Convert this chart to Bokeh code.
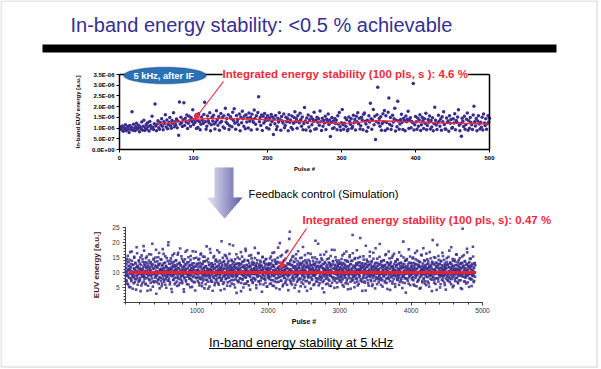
import math
from bokeh.plotting import figure
from bokeh.models import (Range1d, FixedTicker, CustomJSTickFormatter, Label, Arrow,
                          NormalHead, PolyAnnotation, BoxAnnotation, LinearAxis)
from bokeh.embed import file_html
from bokeh.resources import INLINE

FONT = "Liberation Sans"

title_text = "In-band energy stability: <0.5 % achievable"
top_badge_text = "5 kHz,  after IF"
top_note_text = "Integrated energy stability (100 pls, s ): 4.6 %"
bottom_note_text = "Integrated energy stability (100 pls, s): 0.47 %"
feedback_text = "Feedback control (Simulation)"
caption_text = "In-band energy stability at 5 kHz"

# ---------------- top chart: in-band EUV energy per pulse (unit 1e-6 a.u.) ----------------
top_energy_1_100 = [
    0.98, 1.05, 0.92, 1.10, 0.85, 1.02, 0.96, 1.15, 0.88, 1.01, 0.93, 1.08, 0.79, 1.12, 0.95, 1.04, 1.76, 0.90, 1.18, 0.99, 0.87, 1.06, 1.22, 0.94, 1.00,
    1.13, 0.83, 1.05, 0.97, 1.28, 0.91, 1.09, 1.36, 0.89, 1.02, 1.17, 0.95, 1.25, 1.07, 0.86, 1.31, 1.12, 0.98, 1.55, 1.04, 0.93, 1.20, 2.12, 1.10, 0.88,
    1.19, 1.34, 1.01, 0.95, 1.26, 1.14, 1.43, 1.08, 0.92, 1.30, 1.21, 1.62, 1.05, 1.38, 0.97, 1.16, 1.27, 1.49, 1.11, 0.99, 1.35, 1.23, 1.71, 1.06, 1.29,
    1.15, 1.42, 1.02, 1.33, 0.66, 2.22, 1.19, 1.51, 1.25, 1.07, 1.39, 2.18, 1.12, 1.46, 1.28, 1.61, 0.98, 1.22, 1.55, 1.36, 1.09, 1.48, 1.31, 1.85, 1.17]
top_energy_101_200 = [
    1.40, 1.26, 1.58, 0.98, 1.35, 1.03, 1.67, 1.29, 0.92, 1.18, 1.52, 1.37, 1.21, 1.63, 2.21, 1.30, 0.95, 1.08, 1.56, 1.34, 1.24, 1.72, 0.88, 1.15, 1.50,
    1.33, 1.60, 1.19, 0.96, 1.27, 1.81, 1.38, 1.13, 1.54, 0.90, 1.25, 1.68, 1.31, 1.49, 1.05, 1.57, 0.99, 1.92, 1.28, 1.45, 1.20, 1.62, 0.93, 1.11, 1.53,
    1.44, 1.06, 1.74, 1.35, 1.90, 1.22, 0.94, 1.59, 1.30, 1.41, 1.16, 1.66, 0.87, 1.52, 1.25, 1.78, 1.43, 1.09, 1.56, 0.97, 1.62, 1.28, 1.47, 1.00, 1.70,
    1.32, 1.51, 0.91, 1.64, 1.40, 1.27, 1.84, 1.45, 1.18, 1.58, 0.95, 1.73, 2.46, 1.29, 1.49, 1.12, 1.61, 0.89, 1.55, 1.24, 1.68, 1.33, 1.46, 1.02, 1.57]
top_energy_201_300 = [
    1.37, 0.96, 1.48, 1.15, 1.63, 1.31, 1.52, 0.70, 1.42, 1.20, 1.59, 0.93, 1.07, 1.46, 1.28, 1.71, 1.39, 0.90, 1.54, 1.33, 1.24, 1.66, 1.01, 1.12, 1.50,
    1.30, 1.45, 0.88, 1.62, 1.27, 1.38, 1.03, 1.56, 0.94, 1.22, 1.49, 1.76, 1.29, 1.43, 0.99, 1.58, 1.31, 1.25, 1.69, 1.40, 1.09, 1.52, 0.92, 1.21, 1.96,
    1.33, 0.91, 1.47, 1.26, 1.61, 1.05, 1.39, 0.86, 1.53, 1.16, 1.42, 1.31, 1.74, 0.95, 1.36, 0.97, 1.50, 1.27, 1.44, 1.13, 1.80, 1.30, 0.89, 1.46, 1.08,
    1.35, 1.24, 1.55, 0.93, 1.41, 1.29, 1.66, 1.17, 1.38, 0.61, 1.26, 1.49, 0.98, 1.33, 1.02, 1.45, 1.21, 1.37, 0.92, 1.57, 1.19, 1.73, 1.06, 0.90, 1.25]
top_energy_301_400 = [
    1.87, 1.16, 0.94, 1.23, 1.48, 1.09, 1.39, 0.87, 0.95, 1.52, 1.31, 1.18, 1.44, 0.99, 1.07, 1.60, 1.25, 1.40, 0.91, 1.55, 1.29, 1.72, 1.20, 1.46, 0.96,
    1.11, 1.51, 1.38, 0.92, 1.64, 1.70, 1.32, 1.19, 0.85, 1.36, 1.04, 1.58, 1.28, 2.16, 1.43, 0.94, 1.39, 1.87, 1.15, 1.55, 0.47, 1.31, 1.62, 2.90, 1.24,
    1.45, 1.08, 1.53, 0.90, 1.21, 1.67, 1.30, 1.82, 0.89, 1.57, 1.26, 0.97, 1.74, 2.40, 1.18, 1.49, 0.93, 1.11, 1.60, 1.28, 1.44, 1.92, 0.86, 1.37, 1.06,
    2.25, 1.33, 0.95, 1.19, 1.40, 1.65, 1.27, 0.93, 1.46, 1.35, 0.88, 1.56, 1.29, 1.41, 1.78, 0.98, 1.36, 1.48, 1.02, 1.31, 1.25, 3.08, 0.91, 1.16, 1.54]
top_energy_401_500 = [
    1.30, 0.94, 1.47, 1.09, 1.38, 1.62, 0.89, 1.15, 1.51, 1.34, 0.98, 1.44, 1.23, 1.69, 0.92, 1.12, 1.40, 1.27, 1.56, 0.96, 1.35, 1.05, 1.48, 0.87, 1.21,
    1.97, 1.36, 1.14, 0.93, 1.25, 1.60, 1.32, 1.08, 1.42, 0.90, 1.53, 1.29, 1.76, 1.17, 0.96, 0.94, 1.47, 1.26, 1.33, 0.85, 1.58, 1.22, 1.40, 0.99, 1.03,
    1.44, 1.24, 1.67, 0.92, 1.35, 1.27, 1.52, 1.85, 1.13, 0.88, 1.21, 0.62, 1.46, 1.32, 1.07, 1.55, 0.95, 1.16, 1.41, 1.70, 0.90, 1.34, 0.99, 1.49, 1.26,
    1.15, 0.93, 1.61, 2.02, 1.29, 1.10, 1.45, 0.87, 1.33, 1.57, 1.19, 0.96, 1.27, 1.04, 1.50, 0.91, 1.66, 1.24, 1.12, 1.43, 0.94, 1.20, 1.58, 1.28, 1.46]

# 100-pulse integrated (moving average) curve, read every 10 pulses (unit 1e-6 a.u.)
top_avg_pulse = [50, 60, 70, 80, 90, 100, 110, 120, 130, 140, 150, 160, 170, 180, 190, 200, 210, 220, 230, 240,
                 250, 260, 270, 280, 290, 300, 310, 320, 330, 340, 350, 360, 370, 380, 390, 400, 410, 420, 430, 440,
                 450, 460, 470, 480, 490, 500]
top_avg_energy = [1.20, 1.22, 1.25, 1.30, 1.35, 1.40, 1.42, 1.44, 1.45, 1.45, 1.44, 1.43, 1.42, 1.41, 1.40, 1.39, 1.37, 1.35, 1.33, 1.32,
                  1.31, 1.30, 1.28, 1.25, 1.22, 1.21, 1.23, 1.26, 1.29, 1.32, 1.34, 1.33, 1.32, 1.30, 1.29, 1.28, 1.27, 1.26, 1.24, 1.23,
                  1.22, 1.22, 1.21, 1.21, 1.20, 1.20]

top_x_ticks = [0, 100, 200, 300, 400, 500]
top_y_ticks = [0.0, 5e-7, 1e-6, 1.5e-6, 2e-6, 2.5e-6, 3e-6, 3.5e-6]

# ---------------- bottom chart: EUV energy with feedback ----------------
# set A: pulses 1, 6, 11, ...
bottom_energy_a_1_1000 = [
    10.2, 7.5, 12.8, 9.1, 14.6, 6.3, 11.0, 8.7, 13.4, 10.9, 5.2, 12.1, 9.6, 16.8, 8.0, 11.7, 7.1, 10.4, 13.9, 9.3,
    4.6, 12.5, 10.0, 8.4, 15.2, 11.3, 6.8, 9.9, 13.0, 7.7, 10.6, 18.4, 8.9, 12.2, 5.9, 11.5, 9.4, 14.1, 7.3, 10.8,
    12.9, 8.2, 3.8, 11.1, 9.7, 15.7, 10.3, 6.5, 13.6, 8.6, 11.9, 9.0, 17.3, 7.9, 10.5, 12.4, 6.1, 14.8, 9.5, 11.4,
    8.1, 13.2, 10.1, 5.6, 12.0, 9.2, 16.1, 7.4, 11.6, 10.7, 4.2, 13.5, 8.8, 12.6, 9.8, 19.6, 7.0, 11.2, 10.0, 14.3,
    6.7, 9.4, 12.3, 8.3, 15.0, 10.6, 2.9, 11.8, 9.1, 13.7, 7.6, 10.2, 12.7, 6.2, 16.5, 8.5, 11.0, 9.9, 14.4, 7.2,
    10.9, 5.4, 12.2, 9.6, 17.8, 8.0, 11.3, 13.1, 6.9, 10.4, 9.0, 15.4, 7.8, 12.0, 4.9, 11.7, 10.1, 8.6, 13.8, 9.3,
    20.1, 7.3, 11.5, 10.8, 6.0, 12.9, 8.9, 14.7, 9.7, 11.1, 3.5, 13.3, 10.3, 7.5, 12.5, 9.2, 16.3, 8.2, 10.7, 11.9,
    6.6, 14.0, 9.5, 12.1, 7.0, 10.0, 15.9, 8.4, 11.4, 5.8, 13.0, 9.8, 10.6, 18.0, 7.7, 12.4, 8.8, 11.0, 14.5, 6.4,
    10.2, 9.1, 13.6, 4.4, 11.8, 8.1, 12.8, 10.5, 16.9, 7.4, 9.6, 11.2, 6.1, 13.4, 10.0, 8.7, 15.1, 9.3, 12.2, 7.9,
    10.8, 5.1, 14.2, 9.0, 11.6, 12.6, 7.2, 10.4, 17.1, 8.5, 11.3, 6.8, 13.1, 9.9, 10.1, 4.0, 12.0, 8.3, 14.9, 10.7]
bottom_energy_a_1001_2000 = [
    9.4, 12.7, 7.1, 11.0, 14.3, 8.6, 10.5, 5.7, 13.2, 9.9, 16.0, 7.8, 11.8, 10.2, 6.4, 12.9, 9.1, 15.3, 8.0, 10.8,
    11.6, 4.7, 13.7, 9.5, 12.1, 7.6, 10.0, 18.7, 8.8, 11.4, 6.9, 14.6, 10.3, 9.2, 12.5, 5.3, 11.1, 8.4, 16.6, 10.7,
    7.4, 13.0, 9.7, 11.9, 3.9, 12.3, 10.1, 8.2, 15.5, 9.0, 11.5, 6.6, 13.9, 10.6, 8.9, 12.0, 7.0, 17.4, 9.6, 11.2,
    10.4, 5.9, 12.8, 8.5, 14.0, 9.3, 11.7, 7.3, 10.9, 20.4, 8.1, 12.6, 9.8, 6.2, 13.5, 10.0, 11.3, 4.5, 15.8, 8.7,
    12.2, 9.4, 7.9, 11.0, 14.8, 10.5, 6.7, 13.3, 9.1, 11.8, 8.3, 16.2, 10.2, 5.5, 12.4, 9.6, 11.5, 7.5, 13.8, 10.8,
    8.6, 19.0, 9.9, 12.0, 6.0, 11.1, 10.3, 14.4, 7.7, 12.9, 9.2, 3.2, 11.6, 8.8, 15.0, 10.6, 7.2, 13.1, 9.5, 11.3,
    12.7, 8.0, 10.1, 16.8, 6.5, 11.9, 9.7, 13.6, 7.8, 10.4, 5.0, 12.3, 9.0, 14.2, 11.0, 8.4, 17.9, 10.7, 6.3, 12.5,
    9.3, 11.4, 7.0, 13.9, 10.0, 8.9, 15.6, 9.8, 12.1, 4.3, 11.7, 10.2, 7.6, 14.7, 9.4, 12.8, 6.8, 10.9, 8.2, 13.2,
    11.2, 9.6, 18.2, 7.4, 10.5, 12.6, 5.8, 11.8, 9.1, 14.1, 8.7, 10.3, 16.4, 7.1, 12.2, 9.9, 11.5, 6.1, 13.4, 10.8,
    8.5, 12.0, 3.6, 10.6, 15.2, 9.2, 11.0, 7.9, 13.7, 10.1, 8.0, 12.9, 6.6, 11.3, 14.5, 9.5, 10.7, 5.3, 12.4, 9.0]
bottom_energy_a_2001_3000 = [
    11.4, 8.3, 13.1, 9.8, 6.2, 12.7, 10.0, 15.3, 7.5, 11.9, 9.1, 14.0, 5.6, 10.7, 12.4, 8.8, 16.7, 10.2, 7.0, 13.5,
    9.6, 11.1, 4.8, 12.9, 10.4, 8.1, 14.9, 9.3, 11.7, 6.9, 13.3, 10.0, 19.8, 8.5, 12.1, 9.7, 7.3, 11.5, 15.8, 10.6,
    5.4, 12.6, 9.0, 13.9, 8.2, 10.9, 11.8, 6.5, 14.6, 9.4, 12.2, 7.7, 10.1, 17.2, 8.9, 11.3, 4.1, 13.0, 10.5, 9.2,
    23.6, 12.8, 7.1, 11.0, 14.3, 9.9, 6.0, 12.5, 10.3, 8.4, 15.5, 11.6, 7.9, 13.6, 9.5, 10.8, 5.9, 12.0, 16.1, 8.7,
    11.2, 9.1, 13.8, 7.4, 10.0, 12.3, 3.7, 11.4, 9.7, 14.8, 8.0, 12.9, 10.6, 6.7, 13.2, 9.3, 11.9, 18.5, 7.6, 10.4,
    12.6, 8.6, 11.0, 5.2, 14.1, 9.8, 10.2, 13.4, 7.2, 11.7, 9.0, 16.4, 8.3, 12.1, 6.4, 10.9, 13.7, 9.6, 11.3, 4.6,
    12.4, 10.1, 7.8, 15.0, 9.2, 11.6, 8.9, 13.0, 10.7, 6.1, 12.7, 9.4, 20.6, 8.1, 11.1, 10.3, 14.4, 7.0, 12.2, 9.9,
    10.5, 5.7, 13.3, 8.5, 11.8, 9.7, 15.9, 7.5, 12.0, 10.0, 8.2, 14.2, 6.8, 11.4, 9.1, 12.8, 3.4, 10.8, 13.5, 9.5,
    11.0, 7.9, 16.9, 10.4, 8.8, 12.5, 6.3, 11.2, 9.3, 14.7, 10.6, 7.3, 13.1, 9.0, 11.9, 5.5, 12.3, 10.2, 17.6, 8.4,
    9.8, 13.8, 7.7, 11.5, 10.1, 4.9, 12.6, 9.6, 15.1, 8.0, 11.3, 10.9, 6.6, 13.4, 9.2, 12.1, 8.6, 10.7, 14.0, 7.1]
bottom_energy_a_3001_4000 = [
    10.3, 12.9, 7.6, 11.4, 9.0, 14.5, 8.3, 10.8, 5.8, 13.1, 9.7, 11.9, 16.3, 8.7, 10.1, 12.5, 6.4, 11.2, 9.4, 14.0,
    7.9, 10.6, 13.6, 4.4, 11.7, 9.2, 12.2, 8.1, 15.7, 10.0, 6.9, 12.8, 9.8, 11.1, 7.3, 13.9, 22.5, 10.4, 8.5, 12.0,
    9.1, 5.1, 11.5, 14.8, 10.2, 8.0, 12.6, 9.6, 17.4, 7.0, 11.0, 10.7, 13.3, 6.2, 9.3, 12.3, 8.8, 15.2, 10.9, 11.6,
    7.7, 13.0, 9.9, 3.9, 12.1, 10.5, 8.4, 14.3, 9.2, 11.3, 6.6, 12.9, 10.0, 18.9, 8.2, 11.8, 9.5, 13.7, 7.4, 10.3,
    12.4, 5.6, 11.0, 9.7, 15.4, 8.6, 10.8, 12.7, 7.1, 13.5, 9.0, 11.4, 6.0, 10.1, 16.6, 8.9, 12.2, 9.4, 11.7, 4.7,
    13.2, 10.6, 7.8, 12.0, 9.8, 14.6, 8.3, 11.1, 10.4, 6.8, 12.8, 9.1, 19.5, 7.5, 11.5, 10.2, 13.8, 8.0, 9.6, 12.5,
    5.3, 11.9, 10.7, 14.1, 8.7, 10.0, 12.3, 7.2, 15.8, 9.3, 11.2, 6.5, 13.4, 10.5, 8.1, 11.6, 9.9, 17.0, 7.9, 12.6,
    10.1, 4.2, 13.0, 9.5, 11.8, 8.4, 14.9, 10.3, 7.0, 12.1, 9.2, 11.0, 16.2, 8.8, 10.9, 6.1, 13.6, 9.7, 12.4, 10.6,
    8.2, 14.4, 7.6, 11.3, 9.0, 12.9, 5.9, 10.8, 13.1, 9.4, 11.5, 7.4, 15.6, 10.0, 8.6, 12.2, 6.7, 11.7, 20.3, 9.1,
    10.4, 12.7, 8.0, 13.9, 9.8, 3.3, 11.4, 10.2, 14.2, 7.8, 12.0, 9.6, 11.1, 6.3, 13.3, 8.9, 10.7, 15.3, 9.3, 11.8]
bottom_energy_a_4001_4900 = [
    9.5, 12.3, 7.7, 11.0, 14.7, 8.5, 10.6, 6.0, 13.2, 9.9, 11.6, 16.5, 8.2, 10.3, 12.8, 5.4, 11.3, 9.1, 14.0, 10.0,
    7.3, 12.6, 9.7, 11.9, 4.6, 13.5, 10.4, 8.8, 15.9, 9.2, 11.1, 6.7, 12.2, 10.8, 18.1, 8.0, 11.7, 9.4, 13.8, 7.1,
    10.2, 12.0, 5.8, 11.4, 9.6, 14.4, 8.4, 10.9, 13.0, 6.4, 11.8, 9.0, 16.8, 10.5, 7.9, 12.5, 9.3, 11.2, 3.8, 13.6,
    10.1, 8.6, 12.9, 9.8, 15.1, 7.5, 11.0, 10.7, 6.2, 13.3, 9.5, 12.1, 8.1, 19.2, 10.3, 11.5, 7.0, 14.2, 9.2, 12.7,
    10.0, 5.0, 11.6, 8.9, 13.9, 10.6, 7.6, 12.4, 9.7, 15.5, 8.3, 11.2, 10.9, 6.6, 13.0, 9.1, 12.0, 4.3, 11.4, 10.2,
    14.8, 8.7, 12.6, 9.4, 7.2, 11.8, 10.5, 17.3, 8.0, 13.4, 9.9, 11.1, 6.1, 12.8, 10.0, 8.5, 14.5, 9.3, 11.7, 5.6,
    12.2, 10.8, 7.8, 13.7, 9.6, 11.3, 16.0, 8.2, 10.4, 12.5, 6.9, 11.0, 9.0, 14.1, 10.7, 7.4, 12.9, 9.8, 11.6, 4.8,
    13.2, 10.1, 8.8, 15.3, 24.6, 11.9, 9.5, 12.3, 7.0, 10.6, 13.8, 8.4, 11.4, 9.2, 6.3, 12.7, 10.3, 16.7, 8.9, 11.0,
    9.7, 12.1, 5.2, 13.5, 10.0, 8.1, 11.8, 14.6, 9.4, 10.9, 7.7, 12.4, 9.1, 18.6, 10.5, 6.8, 11.5, 9.9, 13.1, 8.6]
# set B: pulses 3, 8, 13, ...
bottom_energy_b_1_1000 = [
    8.9, 11.6, 13.8, 7.2, 10.3, 9.5, 15.6, 6.0, 12.2, 10.8, 8.3, 14.2, 11.1, 5.1, 9.7, 12.9, 7.6, 17.0, 10.1, 8.5,
    12.6, 9.2, 6.4, 11.3, 14.9, 10.6, 7.9, 13.2, 9.0, 4.3, 11.8, 10.4, 16.4, 8.1, 12.0, 9.8, 6.9, 13.7, 10.0, 11.5,
    7.4, 15.0, 9.4, 12.5, 5.7, 10.9, 8.7, 14.5, 11.2, 9.1, 18.8, 7.0, 12.8, 10.2, 8.4, 13.4, 6.2, 11.7, 9.6, 15.3,
    10.5, 3.9, 12.3, 8.8, 11.0, 14.0, 7.7, 9.9, 13.1, 10.7, 6.6, 16.0, 9.3, 11.9, 8.0, 12.7, 5.3, 10.1, 14.6, 9.5,
    11.4, 7.1, 13.5, 10.0, 8.6, 17.6, 9.0, 12.1, 6.8, 11.6, 10.3, 15.1, 7.8, 12.4, 9.7, 4.7, 13.0, 10.9, 8.2, 11.2,
    14.3, 9.4, 6.3, 12.6, 10.6, 8.9, 16.2, 7.5, 11.5, 9.8, 13.3, 5.9, 10.4, 12.2, 8.5, 14.8, 9.2, 11.0, 7.3, 19.1,
    10.8, 8.0, 12.9, 9.6, 6.7, 13.9, 11.3, 10.2, 4.5, 12.0, 8.8, 15.7, 9.1, 11.8, 7.6, 13.6, 10.5, 6.1, 12.5, 9.9,
    11.1, 14.1, 8.3, 10.7, 5.5, 12.8, 9.3, 16.6, 7.9, 11.4, 10.0, 13.2, 6.5, 9.6, 12.3, 8.7, 15.4, 10.3, 7.2, 11.7,
    9.0, 13.8, 10.9, 3.6, 12.1, 8.4, 14.4, 9.7, 11.0, 7.0, 12.7, 10.1, 17.4, 8.6, 11.6, 9.4, 6.0, 13.4, 10.6, 8.1,
    12.4, 9.2, 15.5, 7.7, 11.2, 10.4, 5.2, 13.1, 9.8, 12.0, 8.9, 14.7, 10.7, 6.8, 11.9, 9.5, 16.9, 8.2, 10.0, 12.6]
bottom_energy_b_1001_2000 = [
    10.6, 8.1, 13.0, 9.4, 11.8, 6.6, 14.6, 10.2, 7.9, 12.3, 9.7, 16.3, 8.5, 11.1, 5.4, 12.8, 10.0, 7.3, 13.7, 9.1,
    11.5, 15.2, 8.8, 10.4, 6.1, 12.1, 9.6, 14.0, 7.6, 11.0, 10.8, 4.6, 13.4, 9.0, 12.6, 8.2, 17.8, 10.3, 7.0, 11.7,
    9.3, 13.1, 6.9, 10.9, 12.4, 8.6, 15.0, 9.9, 11.3, 5.8, 12.9, 10.1, 7.7, 14.3, 9.2, 11.9, 8.0, 13.6, 10.5, 6.4,
    12.2, 9.5, 16.7, 8.3, 10.7, 11.4, 4.1, 13.3, 9.8, 7.4, 12.0, 10.6, 14.9, 8.7, 11.2, 6.7, 13.8, 9.1, 10.0, 12.7,
    7.8, 15.6, 9.4, 11.6, 5.6, 12.5, 10.2, 8.4, 13.9, 9.7, 11.0, 19.4, 7.1, 12.1, 10.9, 8.9, 14.2, 6.3, 11.5, 9.3,
    12.8, 10.4, 7.5, 13.5, 9.0, 11.8, 5.0, 12.4, 10.1, 8.6, 16.1, 9.6, 11.3, 7.2, 13.0, 10.8, 6.8, 12.2, 9.9, 14.5,
    8.1, 11.1, 10.3, 3.8, 12.9, 9.2, 15.3, 7.7, 11.7, 10.0, 8.8, 13.7, 6.2, 12.0, 9.5, 11.4, 17.2, 8.3, 10.6, 12.5,
    9.8, 7.0, 14.1, 10.5, 11.9, 5.7, 13.2, 9.1, 12.3, 8.5, 10.7, 15.8, 7.4, 11.0, 9.7, 13.6, 6.5, 12.6, 10.2, 8.0,
    11.5, 9.4, 14.8, 7.9, 12.1, 10.9, 4.8, 13.1, 9.6, 11.2, 8.7, 16.5, 10.4, 6.9, 12.7, 9.0, 11.8, 13.9, 7.3, 10.1,
    12.4, 8.2, 10.8, 15.1, 9.3, 11.6, 6.0, 13.3, 10.0, 8.9, 12.0, 7.6, 14.4, 9.9, 11.1, 5.3, 12.8, 10.6, 8.4, 11.4]
bottom_energy_b_2001_3000 = [
    9.2, 12.5, 7.8, 10.9, 14.7, 8.6, 11.3, 6.3, 13.0, 10.1, 9.5, 16.5, 7.4, 12.2, 10.7, 5.5, 11.8, 9.0, 14.3, 10.4,
    8.0, 12.9, 10.0, 6.8, 13.6, 9.7, 11.5, 18.3, 8.4, 10.8, 12.0, 4.4, 11.1, 9.4, 15.4, 7.2, 12.6, 10.3, 8.9, 13.3,
    10.6, 6.0, 11.9, 9.1, 14.0, 8.2, 12.3, 10.9, 7.0, 16.8, 9.6, 11.4, 5.9, 13.1, 10.2, 8.7, 12.7, 9.3, 21.2, 7.6,
    11.0, 13.8, 9.8, 6.5, 12.4, 10.5, 8.1, 15.2, 9.0, 11.7, 7.3, 13.5, 10.0, 4.9, 12.1, 9.5, 14.6, 8.5, 11.2, 10.7,
    6.9, 12.8, 9.2, 17.1, 8.0, 11.6, 10.4, 13.2, 7.7, 10.1, 5.4, 12.5, 9.9, 14.9, 8.8, 11.3, 10.8, 6.2, 13.7, 9.4,
    12.0, 8.3, 15.8, 10.6, 7.1, 11.8, 9.7, 13.0, 3.9, 12.2, 10.2, 8.6, 14.2, 9.1, 11.5, 6.7, 12.9, 10.0, 16.2, 8.4,
    10.9, 12.4, 7.5, 11.1, 9.6, 13.9, 5.8, 10.5, 12.6, 8.9, 15.0, 9.3, 11.9, 7.0, 13.4, 10.3, 8.0, 12.1, 9.8, 19.6,
    7.8, 11.4, 10.7, 6.4, 13.6, 9.0, 12.3, 8.5, 14.7, 10.1, 11.7, 4.7, 12.8, 9.5, 10.8, 7.3, 16.0, 8.7, 11.2, 13.1,
    9.4, 6.1, 12.0, 10.4, 14.4, 8.2, 11.6, 9.9, 7.6, 13.3, 10.6, 5.6, 12.5, 9.1, 15.5, 8.8, 11.0, 10.2, 6.6, 12.7,
    10.0, 13.7, 8.4, 11.3, 9.7, 17.5, 7.2, 12.2, 10.9, 8.1, 14.1, 9.3, 11.8, 5.1, 12.6, 10.5, 7.9, 13.0, 9.6, 11.1]
bottom_energy_b_3001_4000 = [
    11.7, 8.6, 13.3, 10.0, 6.8, 12.4, 9.4, 15.7, 7.7, 11.2, 10.5, 5.3, 12.9, 9.1, 14.1, 8.3, 11.6, 10.2, 17.0, 7.1,
    12.1, 9.8, 6.2, 13.6, 10.7, 8.8, 11.0, 15.1, 9.5, 12.7, 4.6, 10.4, 13.9, 8.0, 11.4, 9.2, 16.4, 7.5, 12.3, 10.1,
    8.7, 14.5, 6.6, 11.8, 10.9, 9.0, 13.1, 7.9, 12.5, 10.3, 5.7, 14.8, 9.6, 11.1, 8.4, 13.4, 10.6, 21.5, 7.3, 12.0,
    9.9, 11.5, 6.9, 13.0, 10.0, 8.1, 15.4, 9.3, 12.2, 7.0, 11.3, 10.8, 4.0, 12.8, 9.7, 14.3, 8.6, 11.9, 10.4, 6.4,
    13.5, 9.1, 12.6, 8.9, 16.9, 10.2, 7.6, 11.7, 9.4, 13.8, 5.5, 12.0, 10.7, 8.2, 14.6, 9.8, 11.0, 7.2, 12.9, 10.1,
    18.1, 8.5, 11.4, 9.6, 6.1, 13.2, 10.5, 12.3, 7.8, 11.0, 9.0, 15.2, 8.3, 12.7, 10.0, 5.9, 13.6, 9.5, 11.8, 7.4,
    10.9, 12.1, 8.8, 14.0, 9.2, 11.3, 6.7, 12.5, 10.3, 16.1, 8.0, 11.6, 9.7, 4.5, 13.1, 10.6, 8.5, 12.4, 9.3, 14.7,
    7.1, 11.2, 10.1, 13.5, 8.7, 12.0, 9.9, 6.3, 15.6, 10.8, 11.5, 7.8, 12.8, 9.4, 10.4, 5.2, 13.7, 8.9, 11.9, 10.0,
    12.6, 7.5, 14.2, 9.1, 11.1, 8.3, 16.7, 10.5, 6.9, 12.2, 9.7, 13.3, 7.9, 11.4, 10.2, 4.8, 12.9, 9.0, 15.0, 8.6,
    11.7, 10.7, 6.5, 13.9, 9.5, 12.0, 8.1, 14.5, 10.3, 11.0, 7.3, 12.7, 9.8, 17.7, 8.4, 11.3, 10.0, 5.8, 13.2, 9.2]
bottom_energy_b_4001_4900 = [
    10.4, 13.1, 8.2, 11.5, 9.6, 15.0, 7.4, 12.2, 10.8, 5.6, 12.7, 9.3, 14.4, 8.7, 11.1, 10.0, 17.2, 6.9, 12.4, 9.8,
    11.8, 7.7, 13.6, 10.3, 8.4, 12.0, 4.9, 11.3, 9.1, 15.7, 10.6, 7.2, 13.0, 9.5, 11.6, 8.0, 14.1, 10.9, 6.3, 12.5,
    9.0, 11.2, 16.3, 8.6, 10.1, 12.8, 7.0, 13.8, 9.7, 11.4, 5.3, 12.1, 10.5, 8.9, 14.7, 9.2, 11.9, 7.6, 13.3, 10.2,
    20.8, 8.3, 11.0, 9.4, 6.6, 12.6, 10.7, 14.9, 8.1, 11.7, 9.9, 4.2, 13.1, 10.0, 12.3, 7.9, 15.5, 9.6, 11.1, 8.5,
    12.9, 10.4, 6.1, 13.7, 9.3, 11.5, 8.8, 16.6, 10.6, 7.3, 12.0, 9.0, 14.2, 10.9, 5.8, 12.4, 9.7, 11.3, 8.0, 13.5,
    10.1, 7.5, 12.7, 9.5, 15.2, 8.4, 11.8, 10.3, 6.8, 13.0, 9.1, 11.6, 18.4, 7.8, 10.8, 12.2, 5.1, 13.9, 9.8, 11.0,
    8.7, 14.3, 10.5, 7.1, 12.5, 9.4, 11.2, 16.0, 8.2, 10.0, 13.4, 6.4, 12.1, 9.6, 11.7, 8.9, 14.8, 10.7, 7.4, 12.8,
    9.2, 11.4, 4.5, 13.2, 10.2, 8.6, 12.0, 15.8, 9.9, 11.1, 7.0, 13.6, 10.4, 8.3, 12.6, 9.0, 17.9, 10.8, 6.7, 11.9,
    13.0, 9.4, 10.1, 8.0, 14.6, 11.3, 7.7, 12.3, 9.7, 5.5, 12.9, 10.6, 8.8, 15.3, 9.1, 11.6, 7.2, 13.1, 10.0, 12.4]

bottom_avg_pulse = [50, 4900]
bottom_avg_energy = [10.0, 10.0]

bottom_x_ticks = [1000, 2000, 3000, 4000, 5000]
bottom_y_ticks = [5, 10, 15, 20, 25]

# ---------------- assemble series ----------------
top_x, top_y = [], []
for start, seg in [(1, top_energy_1_100), (101, top_energy_101_200), (201, top_energy_201_300),
                   (301, top_energy_301_400), (401, top_energy_401_500)]:
    for i, v in enumerate(seg):
        top_x.append(start + i)
        top_y.append(v * 1e-6)
top_avg_y = [v * 1e-6 for v in top_avg_energy]

bot_x, bot_y = [], []
for start, seg in [(1, bottom_energy_a_1_1000), (1001, bottom_energy_a_1001_2000), (2001, bottom_energy_a_2001_3000),
                   (3001, bottom_energy_a_3001_4000), (4001, bottom_energy_a_4001_4900),
                   (3, bottom_energy_b_1_1000), (1003, bottom_energy_b_1001_2000), (2003, bottom_energy_b_2001_3000),
                   (3003, bottom_energy_b_3001_4000), (4003, bottom_energy_b_4001_4900)]:
    for i, v in enumerate(seg):
        bot_x.append(start + 5 * i)
        bot_y.append(v)

# ---------------- page geometry (page pixels; the page has no margin) ----------------
W, H = 601, 369
T_L, T_R, T_T, T_B = 119, 489, 74, 149      # top chart plot box
B_L, B_R, B_T, B_B = 125, 482, 227, 302     # bottom chart plot box
T_XR, T_YR = (0, 500), (0, 3.5e-6)
B_XR, B_YR = (0, 5000), (0, 25)


def x_range_for(px0, px1, v0, v1):
    k = (v1 - v0) / (px1 - px0)
    return Range1d(start=v0 - px0 * k, end=v0 + (W - px0) * k)


def y_range_for(py_bottom, py_top, v0, v1):
    k = (v1 - v0) / (py_bottom - py_top)
    return Range1d(start=v0 - (H - py_bottom) * k, end=v0 + py_bottom * k)


PURPLE = "#3b2d8c"
RED = "#f02a3c"
LINE_RED = "#f0283a"

p = figure(width=W, height=H, x_range=Range1d(0, W), y_range=Range1d(H, 0),
           x_axis_type=None, y_axis_type=None, output_backend="svg", toolbar_location=None,
           min_border=0, min_border_left=0, min_border_right=0, min_border_top=0, min_border_bottom=0)
p.outline_line_color = None
p.background_fill_color = "white"
p.border_fill_color = "white"
p.extra_x_ranges = {"tx": x_range_for(T_L, T_R, *T_XR), "bx": x_range_for(B_L, B_R, *B_XR)}
p.extra_y_ranges = {"ty": y_range_for(T_B, T_T, *T_YR), "by": y_range_for(B_B, B_T, *B_YR)}

# ================= top chart =================
sci_fmt = CustomJSTickFormatter(code="""
const s = tick.toExponential(1);
const parts = s.split('e');
const e = parseInt(parts[1]);
const a = Math.abs(e);
return parts[0] + 'E' + (e < 0 ? '-' : '+') + (a < 10 ? '0' : '') + a;
""")

t_xa = LinearAxis(x_range_name="tx", y_range_name="ty", fixed_location=T_YR[0], bounds=T_XR,
                  ticker=FixedTicker(ticks=top_x_ticks), axis_label="Pulse #")
t_ya = LinearAxis(x_range_name="tx", y_range_name="ty", fixed_location=T_XR[0], bounds=T_YR,
                  ticker=FixedTicker(ticks=top_y_ticks), formatter=sci_fmt,
                  axis_label="In-band EUV energy [a.u.]")
for ax in (t_xa, t_ya):
    ax.axis_line_color = "black"
    ax.axis_line_width = 1.5
    ax.major_tick_line_color = "black"
    ax.major_tick_out = 3
    ax.major_tick_in = 0
    ax.minor_tick_line_color = None
    ax.major_label_text_font = FONT
    ax.major_label_text_font_style = "bold"
    ax.major_label_text_font_size = "6px"
    ax.major_label_text_color = "black"
    ax.axis_label_text_font = FONT
    ax.axis_label_text_font_style = "bold"
    ax.axis_label_text_font_size = "6px"
    ax.axis_label_text_color = "black"
t_xa.major_label_standoff = 3
t_xa.axis_label_standoff = 3
t_ya.major_label_standoff = 2
t_ya.axis_label_standoff = 8
p.add_layout(t_xa, "below")
p.add_layout(t_ya, "left")

t_top = LinearAxis(x_range_name="tx", y_range_name="ty", fixed_location=T_YR[1], bounds=T_XR,
                   ticker=FixedTicker(ticks=[]), axis_line_color="black", axis_line_width=1.5,
                   major_tick_line_color=None, minor_tick_line_color=None)
t_right = LinearAxis(x_range_name="tx", y_range_name="ty", fixed_location=T_XR[1], bounds=T_YR,
                     ticker=FixedTicker(ticks=[]), axis_line_color="black", axis_line_width=1.5,
                     major_tick_line_color=None, minor_tick_line_color=None)
p.add_layout(t_top, "above")
p.add_layout(t_right, "right")

p.scatter(top_x, top_y, x_range_name="tx", y_range_name="ty", size=3.5, marker="circle",
          fill_color=PURPLE, line_color=None)
p.line(top_avg_pulse, top_avg_y, x_range_name="tx", y_range_name="ty", line_color=LINE_RED, line_width=1.4)

# ================= bottom chart =================
b_xa = LinearAxis(x_range_name="bx", y_range_name="by", fixed_location=B_YR[0], bounds=B_XR,
                  ticker=FixedTicker(ticks=bottom_x_ticks, minor_ticks=list(range(0, 5001, 200))),
                  axis_label="Pulse #")
b_ya = LinearAxis(x_range_name="bx", y_range_name="by", fixed_location=B_XR[0], bounds=B_YR,
                  ticker=FixedTicker(ticks=bottom_y_ticks, minor_ticks=list(range(0, 26))),
                  axis_label="EUV energy [a.u.]")
for ax in (b_xa, b_ya):
    ax.axis_line_color = "#404040"
    ax.axis_line_width = 1
    ax.major_tick_line_color = "#404040"
    ax.major_tick_out = 3
    ax.major_tick_in = 0
    ax.minor_tick_line_color = "#404040"
    ax.minor_tick_out = 2
    ax.minor_tick_in = 0
    ax.major_label_text_font = FONT
    ax.major_label_text_font_size = "6.5px"
    ax.major_label_text_color = "#333333"
    ax.axis_label_text_font = FONT
    ax.axis_label_text_font_style = "bold"
b_xa.axis_label_text_font_size = "7px"
b_xa.axis_label_text_color = "black"
b_ya.axis_label_text_font_size = "8px"
b_ya.axis_label_text_color = "#4a1c16"
b_xa.major_label_standoff = 2
b_xa.axis_label_standoff = 2
b_ya.major_label_standoff = 3
b_ya.axis_label_standoff = 8
p.add_layout(b_xa, "below")
p.add_layout(b_ya, "left")

p.scatter(bot_x, bot_y, x_range_name="bx", y_range_name="by", size=2.6, marker="square",
          fill_color=PURPLE, fill_alpha=0.85, line_color=None)
p.line(bottom_avg_pulse, bottom_avg_energy, x_range_name="bx", y_range_name="by",
       line_color="#e8202c", line_width=3)

# ================= slide decorations (page pixel coordinates) =================
p.add_layout(BoxAnnotation(left=0.5, right=596.5, top=0.5, bottom=366.5, fill_alpha=0,
                           line_color="#666666", line_width=1))

p.add_layout(Label(x=70, y=24, text=title_text, text_font=FONT, text_font_size="20px",
                   text_color="#35308f", text_baseline="middle", text_align="left"))
p.add_layout(BoxAnnotation(left=42, right=556, top=44, bottom=52,
                           fill_color="black", fill_alpha=1.0, line_color=None))

# oval badge
ecx, ecy, erx, ery = 164.5, 75.0, 41.2, 8.3
exs = [ecx + erx * math.cos(2 * math.pi * k / 72) for k in range(72)]
eys = [ecy - ery * math.sin(2 * math.pi * k / 72) for k in range(72)]
p.add_layout(PolyAnnotation(xs=exs, ys=eys, fill_color="#2a72b6", fill_alpha=1.0,
                            line_color="#1b2f66", line_width=1.5))
p.add_layout(Label(x=ecx, y=ecy, text=top_badge_text, text_font=FONT, text_font_size="9.3px",
                   text_font_style="bold", text_color="white", text_align="center", text_baseline="middle"))

# red notes + arrows
p.add_layout(Label(x=222, y=73, text=top_note_text, text_font=FONT, text_font_size="11.5px",
                   text_font_style="bold", text_color=RED, text_align="left", text_baseline="middle",
                   background_fill_color="white"))
p.add_layout(Arrow(x_start=223, y_start=81, x_end=194, y_end=119, line_color=RED, line_width=1.2,
                   end=NormalHead(size=6, fill_color=RED, line_color=RED)))
p.add_layout(Label(x=302, y=219, text=bottom_note_text, text_font=FONT, text_font_size="11.5px",
                   text_font_style="bold", text_color=RED, text_align="left", text_baseline="middle"))
p.add_layout(Arrow(x_start=306, y_start=228, x_end=279, y_end=268, line_color=RED, line_width=1.2,
                   end=NormalHead(size=6, fill_color=RED, line_color=RED)))

# big gradient arrow (vertical strips)
AX0, AX1, AXM = 206, 242, 224
SX0, SX1 = 214, 233
AY_TOP, AY_MID, AY_TIP = 167, 197, 218
C0, C1 = (234, 234, 246), (92, 92, 166)


def grad(x):
    t = max(0.0, min(1.0, (x - AX0) / (AX1 - AX0)))
    r, g, b = (round(a + (bb - a) * t) for a, bb in zip(C0, C1))
    return "#%02x%02x%02x" % (r, g, b)


def head_bottom(x):
    if x <= AXM:
        return AY_MID + (AY_TIP - AY_MID) * (x - AX0) / (AXM - AX0)
    return AY_MID + (AY_TIP - AY_MID) * (AX1 - x) / (AX1 - AXM)


strip_xs, strip_ys, strip_cs = [], [], []
n = 14
for i in range(n):
    a = SX0 + (SX1 - SX0) * i / n
    b = SX0 + (SX1 - SX0) * (i + 1) / n
    bb = b + 0.5 if i < n - 1 else b
    strip_xs.append([a, bb, bb, a])
    strip_ys.append([AY_TOP, AY_TOP, AY_MID + 0.5, AY_MID + 0.5])
    strip_cs.append(grad((a + b) / 2))
n2 = 24
for i in range(n2):
    a = AX0 + (AX1 - AX0) * i / n2
    b = AX0 + (AX1 - AX0) * (i + 1) / n2
    bb = min(b + 0.5, AX1)
    if a < AXM < bb:
        xs = [a, bb, bb, AXM, a]
        ys = [AY_MID, AY_MID, head_bottom(bb), AY_TIP, head_bottom(a)]
    else:
        xs = [a, bb, bb, a]
        ys = [AY_MID, AY_MID, head_bottom(bb), head_bottom(a)]
    strip_xs.append(xs)
    strip_ys.append(ys)
    strip_cs.append(grad((a + b) / 2))
p.patches(strip_xs, strip_ys, fill_color=strip_cs, line_color=None)

p.add_layout(Label(x=248, y=193, text=feedback_text, text_font=FONT, text_font_size="11.3px",
                   text_color="black", text_align="left", text_baseline="middle"))
p.add_layout(Label(x=208.5, y=342, text=caption_text, text_font=FONT, text_font_size="12.9px",
                   text_color="black", text_align="left", text_baseline="middle"))
p.add_layout(Arrow(x_start=208.5, y_start=348, x_end=393, y_end=348,
                   line_color="black", line_width=1, end=None))

open("out.html", "w").write(file_html(p, INLINE))
